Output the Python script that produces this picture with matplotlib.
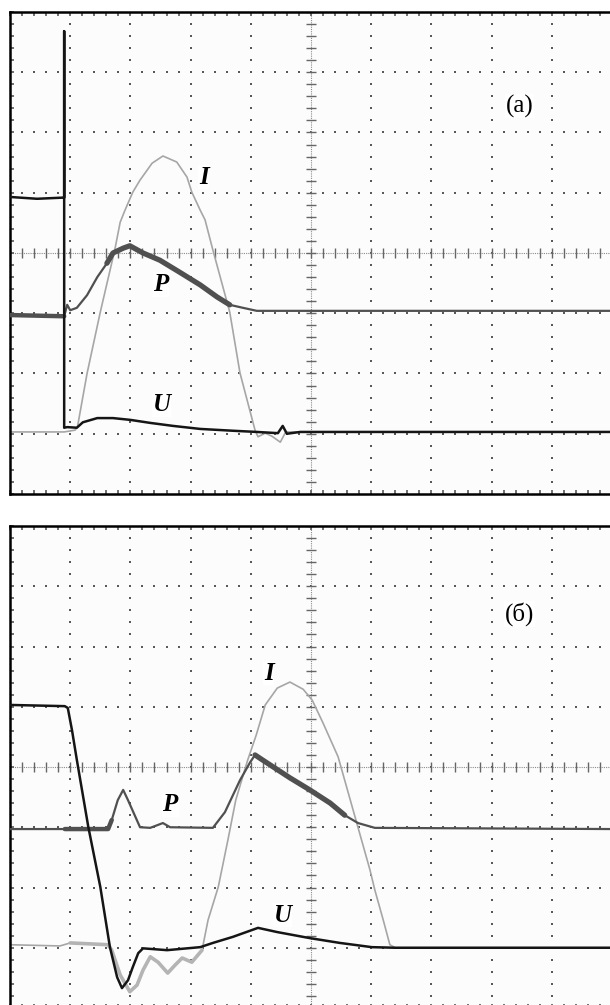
import numpy as np
import matplotlib
matplotlib.use("Agg")
import matplotlib.pyplot as plt

# ---- panel (a)
a_u_x = [0, 0.45, 0.90, 0.90, 0.90, 0.95, 1.11, 1.21, 1.45, 1.71, 2.00, 2.33, 2.71,
         3.16, 3.70, 4.10, 4.45, 4.53, 4.60, 4.82, 10]
a_u_y = [4.93, 4.90, 4.92, 7.68, 1.10, 1.11, 1.10, 1.19, 1.26, 1.26, 1.23, 1.18, 1.13,
         1.08, 1.05, 1.03, 1.01, 1.13, 1.00, 1.03, 1.03]

a_i_x = [0, 0.90, 1.08, 1.12, 1.28, 1.50, 1.74, 1.83, 1.91, 2.04, 2.16, 2.36, 2.54,
         2.77, 2.94, 3.02, 3.16, 3.24, 3.37, 3.65, 3.82, 4.07, 4.12, 4.24, 4.35,
         4.49, 4.58, 10]
a_i_y = [1.03, 1.03, 1.06, 1.11, 2.00, 3.02, 4.05, 4.51, 4.71, 5.01, 5.21, 5.49, 5.61,
         5.51, 5.26, 5.01, 4.71, 4.55, 4.05, 3.02, 2.01, 1.06, 0.95, 1.01, 0.96,
         0.86, 1.03, 1.03]

a_p_x = [0, 0.90, 0.95, 1.00, 1.11, 1.28, 1.45, 1.61, 1.71, 1.88, 1.99, 2.21, 2.49,
         2.82, 3.16, 3.44, 3.65, 3.87, 4.10, 10]
a_p_y = [2.97, 2.95, 3.14, 3.05, 3.09, 3.30, 3.60, 3.83, 4.00, 4.08, 4.12, 4.00, 3.88,
         3.68, 3.47, 3.27, 3.14, 3.09, 3.04, 3.04]

# ---- panel (б)
b_u_x = [0, 0.91, 0.96, 1.03, 1.11, 1.30, 1.50, 1.66, 1.78, 1.86, 1.96, 2.04, 2.13,
         2.21, 2.61, 3.16, 3.37, 3.70, 4.12, 4.44, 4.98, 5.48, 6.01, 6.40, 10]
b_u_y = [5.03, 5.01, 4.98, 4.61, 4.12, 3.01, 2.01, 1.01, 0.51, 0.33, 0.46, 0.68, 0.91,
         0.99, 0.96, 1.01, 1.08, 1.18, 1.33, 1.26, 1.16, 1.08, 1.01, 1.00, 1.00]

b_i_x = [0, 0.83, 1.00, 1.63, 1.69, 1.83, 1.99, 2.11, 2.21, 2.33, 2.46, 2.62, 2.74,
         2.86, 3.02, 3.19, 3.29, 3.46, 3.62, 3.75, 3.95, 4.09, 4.24, 4.44, 4.65,
         4.87, 5.02, 5.20, 5.45, 5.78, 5.98, 6.06, 6.20, 6.31, 6.40, 10]
b_i_y = [1.05, 1.03, 1.08, 1.05, 0.96, 0.55, 0.27, 0.38, 0.63, 0.85, 0.76, 0.58, 0.71,
         0.83, 0.76, 0.96, 1.46, 2.01, 2.79, 3.45, 4.12, 4.53, 5.03, 5.31, 5.41,
         5.29, 5.11, 4.73, 4.17, 3.00, 2.29, 1.96, 1.46, 1.05, 1.00, 1.00]

b_p_x = [0, 0.91, 1.63, 1.69, 1.79, 1.88, 1.96, 2.16, 2.33, 2.54, 2.66, 3.37, 3.57,
         3.82, 3.99, 4.07, 4.19, 4.65, 4.98, 5.32, 5.56, 5.78, 6.06, 10]
b_p_y = [2.97, 2.97, 2.97, 3.12, 3.45, 3.62, 3.45, 3.00, 2.99, 3.07, 3.00, 2.99, 3.25,
         3.78, 4.08, 4.20, 4.12, 3.82, 3.62, 3.40, 3.20, 3.07, 2.99, 2.97]

C_U = "#151515"
C_P = "#505050"
C_I = "#a6a6a6"


def screen(ax):
    ax.set_xlim(0, 10)
    ax.set_ylim(0, 8)
    ax.set_facecolor("#fcfcfc")
    fx = np.arange(0, 10.01, 0.2)
    fy = np.arange(0, 8.01, 0.2)
    dot = dict(ls="none", marker="s", ms=1.5, mew=0, color="0.35", zorder=1)
    for gx in range(1, 10):
        if gx != 5:
            ax.plot(np.full(len(fy), gx), fy, **dot)
    for gy in range(1, 8):
        if gy != 4:
            ax.plot(fx, np.full(len(fx), gy), **dot)
    # centre cross with fine ticks
    ax.plot([0, 10], [4, 4], color="0.55", lw=0.8, ls=(0, (1, 1)), zorder=1)
    ax.plot([5, 5], [0, 8], color="0.55", lw=0.8, ls=(0, (1, 1)), zorder=1)
    ax.plot(fx, np.full(len(fx), 4), ls="none", marker="|", ms=7, mew=1, color="0.4", zorder=1)
    ax.plot(np.full(len(fy), 5), fy, ls="none", marker="_", ms=7, mew=1, color="0.4", zorder=1)
    ax.set_xticks(fx)
    ax.set_yticks(fy)
    ax.tick_params(direction="in", length=3, width=1.2, color="0.35",
                   top=True, bottom=True, left=True, right=False,
                   labelbottom=False, labelleft=False)
    for s in ["top", "left", "bottom"]:
        ax.spines[s].set_linewidth(1.8)
        ax.spines[s].set_color("black")
    ax.spines["right"].set_visible(False)


def thick(ax, x, y, lo, hi, color, lw):
    x = np.array(x)
    y = np.array(y)
    m = (x >= lo) & (x <= hi)
    ax.plot(x[m], y[m], color=color, lw=lw, solid_capstyle="round", zorder=3)


def label(ax, x, y, s, italic=True):
    ax.text(x, y, s, fontsize=18, family="Liberation Serif",
            style="italic" if italic else "normal",
            weight="bold" if italic else "normal", ha="center", va="center",
            zorder=5, bbox=dict(facecolor="white", edgecolor="none", pad=0.5))


fig = plt.figure(figsize=(6.1, 10.05), dpi=100)
ax1 = fig.add_axes([10 / 610, 511 / 1005, 602 / 610, 482 / 1005])
ax2 = fig.add_axes([10 / 610, -3 / 1005, 602 / 610, 482 / 1005])

screen(ax1)
ax1.plot(a_i_x, a_i_y, color=C_I, lw=1.2, zorder=2)
ax1.plot(a_p_x, a_p_y, color=C_P, lw=1.6, zorder=3)
thick(ax1, a_p_x, a_p_y, 0, 0.9, C_P, 3.2)
thick(ax1, a_p_x, a_p_y, 1.6, 3.7, C_P, 3.8)
ax1.plot(a_u_x, a_u_y, color=C_U, lw=1.8, zorder=4)
label(ax1, 3.22, 5.26, "I")
label(ax1, 2.51, 3.48, "P")
label(ax1, 2.52, 1.48, "U")
label(ax1, 8.46, 6.44, "(a)", italic=False)

screen(ax2)
ax2.plot(b_i_x, b_i_y, color=C_I, lw=1.2, zorder=2)
thick(ax2, b_i_x, b_i_y, 1.0, 3.2, "#b4b4b4", 2.6)
ax2.plot(b_p_x, b_p_y, color=C_P, lw=1.6, zorder=3)
thick(ax2, b_p_x, b_p_y, 0.9, 1.7, C_P, 3.2)
thick(ax2, b_p_x, b_p_y, 4.0, 5.6, C_P, 3.8)
ax2.plot(b_u_x, b_u_y, color=C_U, lw=1.8, zorder=4)
label(ax2, 4.30, 5.56, "I")
label(ax2, 2.66, 3.37, "P")
label(ax2, 4.53, 1.54, "U")
label(ax2, 8.47, 6.54, "(б)", italic=False)

fig.savefig("out.png", dpi=100, facecolor="white")
